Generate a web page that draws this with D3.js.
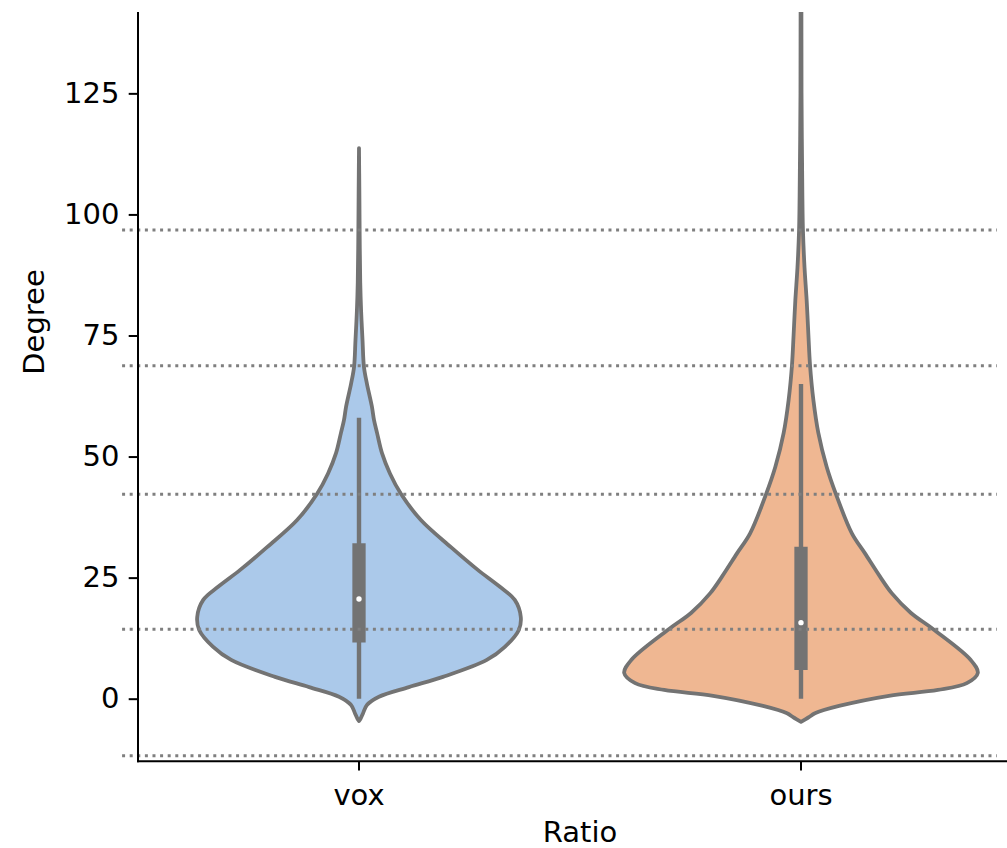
<!DOCTYPE html>
<html><head><meta charset="utf-8">
<script src="https://cdn.jsdelivr.net/npm/d3@7"></script>
<style>html,body{margin:0;padding:0;background:#fff;}svg{display:block;}</style>
</head><body>
<script>
// ---- data ----
const categories = ["vox", "ours"];
const yTicks = [0, 25, 50, 75, 100, 125];
// density profiles: [value, relative density]
const voxDensity = [[113.7,0],[105,0.002],[95,0.004],[86,0.007],[80,0.012],[74,0.02],[68.5,0.028],[65,0.045],[60.3,0.073],[57.5,0.085],[54.9,0.102],[50.7,0.13],[46.5,0.175],[42.3,0.237],[36.9,0.35],[31.3,0.52],[26.6,0.672],[23.1,0.797],[20.4,0.881],[16.9,0.915],[14.2,0.904],[10.7,0.825],[8,0.723],[4.5,0.475],[2.4,0.282],[0.4,0.113],[-1.3,0.045],[-3,0.023],[-4.2,0.008],[-4.6,0]];
const oursDensity = [[155,0],[150,0.002],[125,0.003],[111,0.006],[96.7,0.011],[89,0.02],[82.3,0.032],[75,0.042],[68.9,0.051],[61.7,0.07],[54.9,0.098],[47.9,0.145],[42.3,0.197],[34.2,0.287],[30,0.362],[25.2,0.447],[21.8,0.513],[17.7,0.622],[14.4,0.746],[8,0.96],[5.3,1.0],[3.2,0.938],[1.8,0.774],[0.6,0.497],[-1.5,0.215],[-3,0.079],[-3.8,0.045],[-4.8,0]];
const medians = [20.6, 15.7];
const q1 = [11.6, 5.9];
const q3 = [32.1, 31.4];
const whiskerLow = [0, 0];
const whiskerHigh = [58, 65];
const refLines = [-11.77, 14.33, 42.2, 68.76, 96.78];
const colors = ["#abc9ea", "#efb792"];

// ---- layout ----
const W = 1007, H = 848;
const svg = d3.select("body").append("svg").attr("width", W).attr("height", H);
const y = d3.scaleLinear().domain([-12.93, 141.8]).range([761.3, 12]);
const x = d3.scaleBand().domain(categories).range([138, 1022]).padding(0);
const cx = c => x(c) + x.bandwidth() / 2;
const wScale = d3.scaleLinear().domain([0, 1]).range([0, 0.4 * x.bandwidth()]);
const xCat = d3.scaleLinear().domain([-0.5, 1.5]).range([138, 1022]);
const gray = "#737373";
const font = "DejaVu Sans, sans-serif";
const fs = 29;

svg.append("defs").append("clipPath").attr("id", "clip")
  .append("rect").attr("x", 138).attr("y", 12).attr("width", 900).attr("height", 749.3);

const plot = svg.append("g").attr("clip-path", "url(#clip)");
const densities = [voxDensity, oursDensity];

categories.forEach((c, i) => {
  const area = d3.area()
    .curve(d3.curveCatmullRom.alpha(0.5))
    .y(d => y(d[0]))
    .x0(d => cx(c) - wScale(d[1]))
    .x1(d => cx(c) + wScale(d[1]));
  plot.append("path").datum(densities[i]).attr("d", area)
    .attr("fill", colors[i]).attr("stroke", gray).attr("stroke-width", 3.8)
    .attr("stroke-linejoin", "round");
  // whisker
  plot.append("line").attr("x1", cx(c)).attr("x2", cx(c))
    .attr("y1", y(whiskerLow[i])).attr("y2", y(whiskerHigh[i]))
    .attr("stroke", gray).attr("stroke-width", 4.4);
  // box
  plot.append("line").attr("x1", cx(c)).attr("x2", cx(c))
    .attr("y1", y(q1[i])).attr("y2", y(q3[i]))
    .attr("stroke", gray).attr("stroke-width", 13.3);
  // median
  plot.append("circle").attr("cx", cx(c)).attr("cy", y(medians[i])).attr("r", 2.7)
    .attr("fill", "#fff");
});

// reference dotted lines
svg.append("g").selectAll("line").data(refLines).join("line")
  .attr("x1", xCat(-0.536)).attr("x2", xCat(1.443))
  .attr("y1", d => y(d)).attr("y2", d => y(d))
  .attr("stroke", "#7f7f7f").attr("stroke-width", 3)
  .attr("stroke-dasharray", "3 4.6");

// axes
const yAxis = svg.append("g").attr("transform", "translate(138,0)")
  .call(d3.axisLeft(y).tickValues(yTicks).tickSize(9.3).tickPadding(9.3));
const xAxis = svg.append("g").attr("transform", "translate(0,761.3)")
  .call(d3.axisBottom(x).tickSize(9.3).tickPadding(14));
[yAxis, xAxis].forEach(a => {
  a.select(".domain").attr("stroke", "#000").attr("stroke-width", 2);
  a.selectAll(".tick line").attr("stroke", "#000").attr("stroke-width", 2);
  a.selectAll(".tick text").attr("fill", "#000").attr("font-family", font).attr("font-size", fs);
});
yAxis.select(".domain").attr("d", "M0,12V762.3");
xAxis.select(".domain").attr("d", "M137,0H1010");

svg.append("text").attr("x", 580).attr("y", 842).attr("text-anchor", "middle")
  .attr("font-family", font).attr("font-size", fs).attr("fill", "#000").text("Ratio");
svg.append("text").attr("transform", "translate(44,322) rotate(-90)").attr("text-anchor", "middle")
  .attr("font-family", font).attr("font-size", fs).attr("fill", "#000").text("Degree");
</script>
</body></html>
